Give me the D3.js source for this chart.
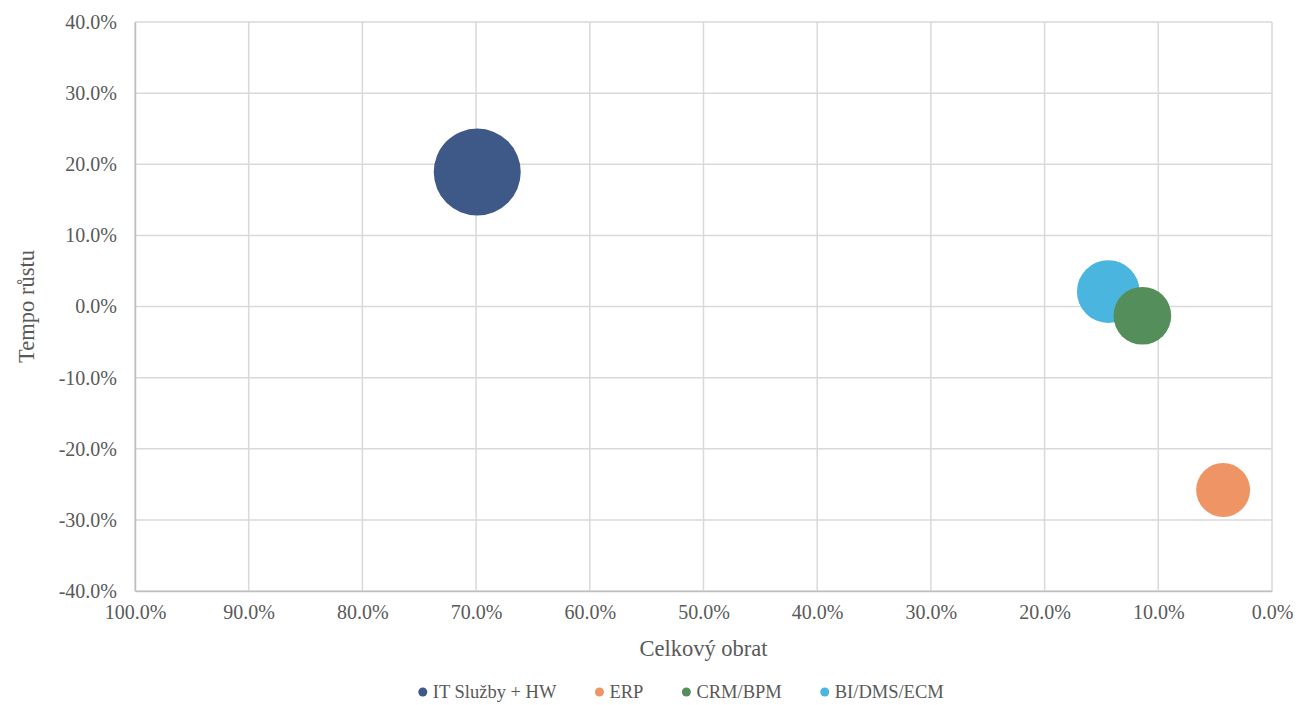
<!DOCTYPE html>
<html>
<head>
<meta charset="utf-8">
<script src="https://cdn.jsdelivr.net/npm/d3@7"></script>
<style>
  body { margin: 0; background: #fff; }
  text { font-family: "Liberation Serif", "Times New Roman", serif; fill: #595959; }
</style>
</head>
<body>
<div id="chart"></div>
<script>
// segments and their values
var names = ["IT Služby + HW", "ERP", "CRM/BPM", "BI/DMS/ECM"];
var obrat = [0.699, 0.043, 0.114, 0.144];      // x: Celkový obrat
var tempo = [0.189, -0.258, -0.013, 0.021];    // y: Tempo růstu
var sizes = [100, 38.5, 44, 52];               // bubble size
var colors = ["#3e5887", "#ef9565", "#538e5b", "#4ab6df"];
var xTicks = [1, 0.9, 0.8, 0.7, 0.6, 0.5, 0.4, 0.3, 0.2, 0.1, 0];
var yTicks = [-0.4, -0.3, -0.2, -0.1, 0, 0.1, 0.2, 0.3, 0.4];

var W = 1299, H = 705;
var margin = {top: 22, right: 27, bottom: 114, left: 135},
    width = W - margin.left - margin.right,
    height = H - margin.top - margin.bottom;

var svg = d3.select("#chart")
    .append("svg")
    .attr("width", W)
    .attr("height", H);

var g = svg.append("g")
    .attr("transform", "translate(" + margin.left + "," + margin.top + ")");

var x = d3.scaleLinear().domain([1, 0]).range([0, width]);
var y = d3.scaleLinear().domain([-0.4, 0.4]).range([height, 0]);
var r = d3.scaleSqrt().domain([0, d3.max(sizes)]).range([0, 43.5]);
// hyphen as minus sign, like the original
var fmt = d3.formatLocale({decimal: ".", thousands: ",", grouping: [3], currency: ["", ""], minus: "-"}).format(".1%");

// grid
g.selectAll(".vgrid")
    .data(xTicks)
    .enter()
    .append("line")
    .attr("x1", d => x(d)).attr("x2", d => x(d))
    .attr("y1", 0).attr("y2", height)
    .attr("stroke", "#d9d9d9")
    .attr("stroke-width", 1.5);

g.selectAll(".hgrid")
    .data(yTicks)
    .enter()
    .append("line")
    .attr("x1", 0).attr("x2", width)
    .attr("y1", d => y(d)).attr("y2", d => y(d))
    .attr("stroke", "#d9d9d9")
    .attr("stroke-width", 1.5);

// axes
var xAxis = g.append("g")
    .attr("transform", "translate(0," + height + ")")
    .call(d3.axisBottom(x).tickValues(xTicks).tickFormat(fmt).tickSize(0).tickPadding(14));
var yAxis = g.append("g")
    .call(d3.axisLeft(y).tickValues(yTicks).tickFormat(fmt).tickSize(0).tickPadding(18));

[xAxis, yAxis].forEach(function(a) {
    a.attr("font-family", null);
    a.select(".domain").attr("stroke", "#bfbfbf").attr("stroke-width", 1.5);
    a.selectAll("text")
        .style("font-family", "Liberation Serif, serif")
        .style("font-size", "20px")
        .attr("fill", "#595959");
});

// bubbles, largest first
var idx = d3.range(names.length).sort((a, b) => sizes[b] - sizes[a]);
g.selectAll(".bubble")
    .data(idx)
    .enter()
    .append("circle")
    .attr("cx", i => x(obrat[i]))
    .attr("cy", i => y(tempo[i]))
    .attr("r", i => r(sizes[i]))
    .attr("fill", i => colors[i]);

// axis titles
svg.append("text")
    .attr("x", margin.left + width / 2)
    .attr("y", 656)
    .attr("text-anchor", "middle")
    .style("font-size", "22.5px")
    .text("Celkový obrat");

svg.append("text")
    .attr("transform", "translate(34," + (margin.top + height / 2) + ") rotate(-90)")
    .attr("text-anchor", "middle")
    .style("font-size", "22.5px")
    .text("Tempo růstu");

// legend
var legend = svg.append("g").attr("transform", "translate(0,692)");
var items = legend.selectAll(".item")
    .data(names)
    .enter()
    .append("g");
items.append("circle")
    .attr("r", 4.5)
    .attr("fill", (d, i) => colors[i]);
items.append("text")
    .attr("x", 10)
    .attr("dy", "0.35em")
    .style("font-size", "18.5px")
    .text(d => d);

var pos = 0, offsets = [];
items.each(function() {
    offsets.push(pos);
    pos += 10 + d3.select(this).select("text").node().getComputedTextLength() + 43;
});
var total = pos - 43 + 4.5;
var start = 681 - total / 2 + 4.5;
items.attr("transform", (d, i) => "translate(" + (start + offsets[i]) + ",0)");
</script>
</body>
</html>
